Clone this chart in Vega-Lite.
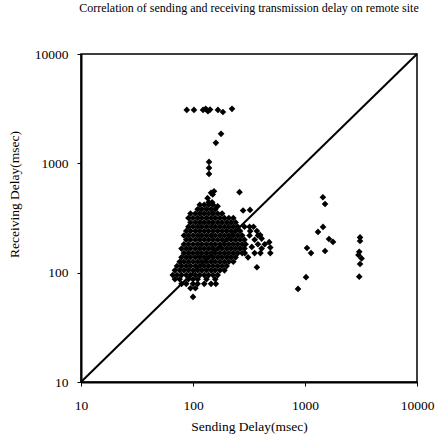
{
  "$schema": "https://vega.github.io/schema/vega-lite/v6.json",
  "width": 336,
  "height": 328,
  "autosize": {"type": "none"},
  "padding": {"left": 81, "top": 54, "right": 28, "bottom": 54},
  "background": "white",
  "title": {"text": "Correlation of sending and receiving transmission delay on remote site", "font": "Liberation Serif", "fontSize": 12, "fontWeight": "normal", "color": "black", "anchor": "middle", "offset": 32},
  "config": {
    "view": {"stroke": "black", "strokeWidth": 1.5},
    "axis": {"grid": false, "domain": true, "domainColor": "black", "domainWidth": 2, "tickColor": "black", "tickSize": 4, "labelFont": "Liberation Serif", "labelFontSize": 13.5, "labelColor": "black", "titleFont": "Liberation Serif", "titleFontSize": 13.5, "titleFontWeight": "normal", "titleColor": "black"}
  },
  "datasets": {
    "diag": [{"send": 10, "recv": 10}, {"send": 10000, "recv": 10000}],
    "pts": [
      {"send": 100, "recv": 60},
      {"send": 95, "recv": 72}, {"send": 105, "recv": 72},
      {"send": 79, "recv": 79}, {"send": 87, "recv": 79}, {"send": 100, "recv": 79}, {"send": 110, "recv": 79}, {"send": 126, "recv": 79}, {"send": 145, "recv": 79}, {"send": 160, "recv": 79},
      {"send": 69, "recv": 87}, {"send": 76, "recv": 87}, {"send": 91, "recv": 87}, {"send": 100, "recv": 87}, {"send": 110, "recv": 87}, {"send": 132, "recv": 87}, {"send": 158, "recv": 87},
      {"send": 66, "recv": 95}, {"send": 72, "recv": 95}, {"send": 79, "recv": 95}, {"send": 87, "recv": 95}, {"send": 95, "recv": 95}, {"send": 105, "recv": 95}, {"send": 115, "recv": 95}, {"send": 126, "recv": 95}, {"send": 138, "recv": 95}, {"send": 151, "recv": 95}, {"send": 166, "recv": 95},
      {"send": 69, "recv": 105}, {"send": 76, "recv": 105}, {"send": 83, "recv": 105}, {"send": 91, "recv": 105}, {"send": 100, "recv": 105}, {"send": 110, "recv": 105}, {"send": 120, "recv": 105}, {"send": 132, "recv": 105}, {"send": 145, "recv": 105}, {"send": 158, "recv": 105}, {"send": 174, "recv": 105}, {"send": 191, "recv": 105},
      {"send": 72, "recv": 115}, {"send": 79, "recv": 115}, {"send": 87, "recv": 115}, {"send": 95, "recv": 115}, {"send": 105, "recv": 115}, {"send": 115, "recv": 115}, {"send": 126, "recv": 115}, {"send": 138, "recv": 115}, {"send": 151, "recv": 115}, {"send": 166, "recv": 115}, {"send": 182, "recv": 115}, {"send": 200, "recv": 115}, {"send": 372, "recv": 112},
      {"send": 76, "recv": 126}, {"send": 83, "recv": 126}, {"send": 91, "recv": 126}, {"send": 100, "recv": 126}, {"send": 110, "recv": 126}, {"send": 120, "recv": 126}, {"send": 132, "recv": 126}, {"send": 145, "recv": 126}, {"send": 158, "recv": 126}, {"send": 174, "recv": 126}, {"send": 191, "recv": 126}, {"send": 209, "recv": 126}, {"send": 229, "recv": 126},
      {"send": 79, "recv": 138}, {"send": 87, "recv": 138}, {"send": 95, "recv": 138}, {"send": 105, "recv": 138}, {"send": 115, "recv": 138}, {"send": 126, "recv": 138}, {"send": 138, "recv": 138}, {"send": 151, "recv": 138}, {"send": 166, "recv": 138}, {"send": 182, "recv": 138}, {"send": 200, "recv": 138}, {"send": 219, "recv": 138}, {"send": 240, "recv": 138}, {"send": 310, "recv": 138},
      {"send": 83, "recv": 151}, {"send": 91, "recv": 151}, {"send": 100, "recv": 151}, {"send": 110, "recv": 151}, {"send": 120, "recv": 151}, {"send": 132, "recv": 151}, {"send": 145, "recv": 151}, {"send": 158, "recv": 151}, {"send": 174, "recv": 151}, {"send": 191, "recv": 151}, {"send": 209, "recv": 151}, {"send": 229, "recv": 151}, {"send": 251, "recv": 151}, {"send": 275, "recv": 151}, {"send": 290, "recv": 151}, {"send": 355, "recv": 151}, {"send": 400, "recv": 151}, {"send": 490, "recv": 151},
      {"send": 79, "recv": 166}, {"send": 87, "recv": 166}, {"send": 95, "recv": 166}, {"send": 105, "recv": 166}, {"send": 115, "recv": 166}, {"send": 126, "recv": 166}, {"send": 138, "recv": 166}, {"send": 151, "recv": 166}, {"send": 166, "recv": 166}, {"send": 182, "recv": 166}, {"send": 200, "recv": 166}, {"send": 219, "recv": 166}, {"send": 240, "recv": 166}, {"send": 263, "recv": 166}, {"send": 288, "recv": 166}, {"send": 335, "recv": 172}, {"send": 410, "recv": 166}, {"send": 490, "recv": 170},
      {"send": 83, "recv": 182}, {"send": 91, "recv": 182}, {"send": 100, "recv": 182}, {"send": 110, "recv": 182}, {"send": 120, "recv": 182}, {"send": 132, "recv": 182}, {"send": 145, "recv": 182}, {"send": 158, "recv": 182}, {"send": 174, "recv": 182}, {"send": 191, "recv": 182}, {"send": 209, "recv": 182}, {"send": 229, "recv": 182}, {"send": 251, "recv": 182}, {"send": 275, "recv": 182}, {"send": 295, "recv": 182}, {"send": 380, "recv": 182}, {"send": 437, "recv": 182}, {"send": 479, "recv": 190},
      {"send": 87, "recv": 200}, {"send": 95, "recv": 200}, {"send": 105, "recv": 200}, {"send": 115, "recv": 200}, {"send": 126, "recv": 200}, {"send": 138, "recv": 200}, {"send": 151, "recv": 200}, {"send": 166, "recv": 200}, {"send": 182, "recv": 200}, {"send": 200, "recv": 200}, {"send": 219, "recv": 200}, {"send": 240, "recv": 200}, {"send": 263, "recv": 200}, {"send": 288, "recv": 200}, {"send": 355, "recv": 200}, {"send": 410, "recv": 205},
      {"send": 83, "recv": 219}, {"send": 91, "recv": 219}, {"send": 100, "recv": 219}, {"send": 110, "recv": 219}, {"send": 120, "recv": 219}, {"send": 132, "recv": 219}, {"send": 145, "recv": 219}, {"send": 158, "recv": 219}, {"send": 174, "recv": 219}, {"send": 191, "recv": 219}, {"send": 209, "recv": 219}, {"send": 229, "recv": 219}, {"send": 251, "recv": 219}, {"send": 275, "recv": 219}, {"send": 320, "recv": 219}, {"send": 380, "recv": 219}, {"send": 398, "recv": 221},
      {"send": 87, "recv": 240}, {"send": 95, "recv": 240}, {"send": 105, "recv": 240}, {"send": 115, "recv": 240}, {"send": 126, "recv": 240}, {"send": 138, "recv": 240}, {"send": 151, "recv": 240}, {"send": 166, "recv": 240}, {"send": 182, "recv": 240}, {"send": 200, "recv": 240}, {"send": 219, "recv": 240}, {"send": 240, "recv": 240}, {"send": 263, "recv": 240}, {"send": 324, "recv": 240}, {"send": 372, "recv": 240},
      {"send": 91, "recv": 263}, {"send": 100, "recv": 263}, {"send": 110, "recv": 263}, {"send": 120, "recv": 263}, {"send": 132, "recv": 263}, {"send": 145, "recv": 263}, {"send": 158, "recv": 263}, {"send": 174, "recv": 263}, {"send": 191, "recv": 263}, {"send": 209, "recv": 263}, {"send": 229, "recv": 263}, {"send": 251, "recv": 263}, {"send": 288, "recv": 263}, {"send": 320, "recv": 263}, {"send": 347, "recv": 263},
      {"send": 95, "recv": 288}, {"send": 105, "recv": 288}, {"send": 115, "recv": 288}, {"send": 126, "recv": 288}, {"send": 138, "recv": 288}, {"send": 151, "recv": 288}, {"send": 166, "recv": 288}, {"send": 182, "recv": 288}, {"send": 200, "recv": 288}, {"send": 219, "recv": 288}, {"send": 240, "recv": 288},
      {"send": 91, "recv": 316}, {"send": 100, "recv": 316}, {"send": 110, "recv": 316}, {"send": 120, "recv": 316}, {"send": 132, "recv": 316}, {"send": 145, "recv": 316}, {"send": 158, "recv": 316}, {"send": 174, "recv": 316}, {"send": 191, "recv": 316}, {"send": 209, "recv": 316}, {"send": 229, "recv": 316},
      {"send": 95, "recv": 347}, {"send": 105, "recv": 347}, {"send": 115, "recv": 347}, {"send": 126, "recv": 347}, {"send": 138, "recv": 347}, {"send": 151, "recv": 347}, {"send": 166, "recv": 347}, {"send": 182, "recv": 347},
      {"send": 110, "recv": 380}, {"send": 120, "recv": 380}, {"send": 132, "recv": 380}, {"send": 145, "recv": 380}, {"send": 158, "recv": 380}, {"send": 280, "recv": 370}, {"send": 323, "recv": 375},
      {"send": 115, "recv": 417}, {"send": 126, "recv": 417}, {"send": 138, "recv": 417}, {"send": 151, "recv": 417}, {"send": 166, "recv": 405},
      {"send": 138, "recv": 440}, {"send": 148, "recv": 440}, {"send": 135, "recv": 480},
      {"send": 145, "recv": 537}, {"send": 150, "recv": 520}, {"send": 154, "recv": 555}, {"send": 260, "recv": 545},
      {"send": 139, "recv": 800}, {"send": 139, "recv": 908}, {"send": 139, "recv": 1030},
      {"send": 160, "recv": 1540}, {"send": 178, "recv": 1860},
      {"send": 88, "recv": 3080}, {"send": 102, "recv": 3080}, {"send": 123, "recv": 3080}, {"send": 130, "recv": 3150}, {"send": 136, "recv": 3000}, {"send": 142, "recv": 3100}, {"send": 167, "recv": 3080}, {"send": 185, "recv": 2950}, {"send": 223, "recv": 3150},
      {"send": 1445, "recv": 490}, {"send": 1510, "recv": 425},
      {"send": 1449, "recv": 262}, {"send": 1306, "recv": 236}, {"send": 1637, "recv": 203}, {"send": 1778, "recv": 191}, {"send": 1510, "recv": 158}, {"send": 1042, "recv": 168}, {"send": 1132, "recv": 151}, {"send": 1021, "recv": 91}, {"send": 866, "recv": 71},
      {"send": 3100, "recv": 210}, {"send": 3100, "recv": 195}, {"send": 3050, "recv": 155}, {"send": 3000, "recv": 145}, {"send": 3200, "recv": 135}, {"send": 3100, "recv": 120}, {"send": 3050, "recv": 92}
    ]
  },
  "layer": [
    {
      "data": {"name": "diag"},
      "mark": {"type": "line", "color": "black", "strokeWidth": 2},
      "encoding": {
        "x": {"field": "send", "type": "quantitative", "scale": {"type": "log", "domain": [10, 10000]}, "axis": {"title": "Sending Delay(msec)", "values": [10, 100, 1000, 10000], "format": "d", "labelPadding": 12, "titlePadding": 8, "labelFlush": false}},
        "y": {"field": "recv", "type": "quantitative", "scale": {"type": "log", "domain": [10, 10000]}, "axis": {"title": "Receiving Delay(msec)", "values": [10, 100, 1000, 10000], "format": "d", "labelPadding": 9, "labelFlush": false, "titleX": -60, "titleY": 140}}
      }
    },
    {
      "data": {"name": "pts"},
      "mark": {"type": "point", "shape": "diamond", "filled": true, "color": "black", "size": 44, "opacity": 1},
      "encoding": {
        "x": {"field": "send", "type": "quantitative"},
        "y": {"field": "recv", "type": "quantitative"}
      }
    }
  ]
}
